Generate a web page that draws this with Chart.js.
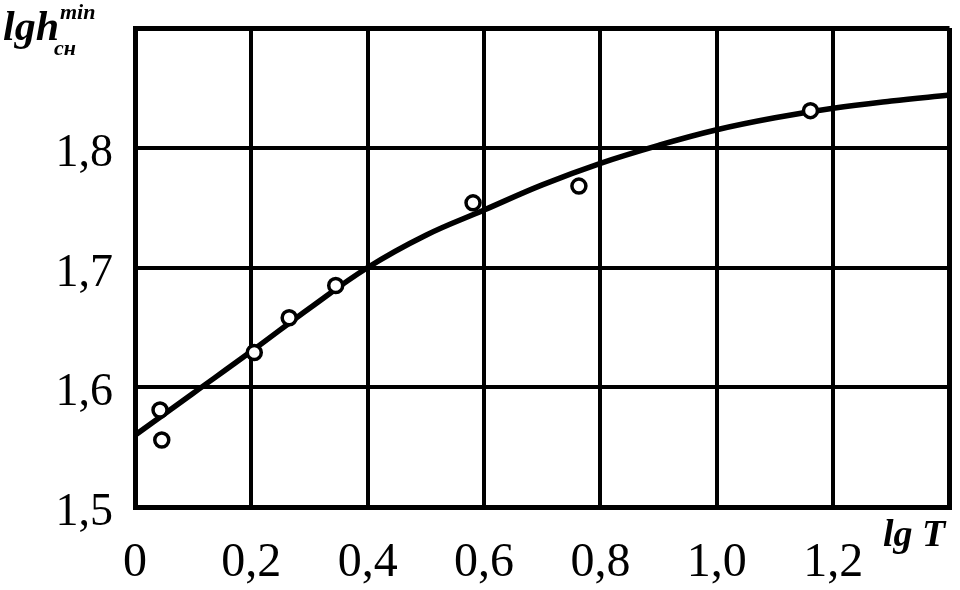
<!DOCTYPE html>
<html>
<head>
<meta charset="utf-8">
<script src="https://cdn.jsdelivr.net/npm/chart.js@4.4.1/dist/chart.umd.min.js"></script>
<style>
  body { margin: 0; background: #fff; }
  #wrap { width: 960px; height: 590px; }
</style>
</head>
<body>
<div id="wrap"><canvas id="myChart" width="960" height="590"></canvas></div>
<script>
// fitted curve
const curveX = [0, 0.1, 0.2, 0.3, 0.4, 0.5, 0.6, 0.7, 0.8, 0.9, 1.0, 1.1, 1.2, 1.3, 1.4];
const curveY = [1.560, 1.595, 1.630, 1.666, 1.700, 1.727, 1.748, 1.769, 1.787, 1.802, 1.815, 1.825, 1.833, 1.839, 1.844];

// observed points
const obsX = [0.043, 0.046, 0.205, 0.265, 0.345, 0.581, 0.763, 1.161];
const obsY = [1.581, 1.556, 1.629, 1.658, 1.685, 1.754, 1.768, 1.831];

const xTicks = [0, 0.2, 0.4, 0.6, 0.8, 1.0, 1.2, 1.4];
const xTickLabels = ['0', '0,2', '0,4', '0,6', '0,8', '1,0', '1,2', ''];
const yTicks = [1.5, 1.6, 1.7, 1.8, 1.9];
const yTickLabels = ['1,5', '1,6', '1,7', '1,8', ''];

const serif = '"Liberation Serif", "DejaVu Serif", serif';

const titles = {
  id: 'titles',
  afterDraw(chart) {
    const c = chart.ctx;
    c.save();
    c.fillStyle = '#000';
    c.textBaseline = 'alphabetic';
    c.font = 'italic bold 42px ' + serif;
    c.fillText('lgh', 3, 40);
    c.font = 'italic bold 22px ' + serif;
    c.fillText('min', 60, 19);
    c.fillText('сн', 54, 55);
    c.font = 'italic bold 38px ' + serif;
    c.fillText('lg T', 883, 546);
    c.restore();
  }
};

const ctx = document.getElementById('myChart');

new Chart(ctx, {
  type: 'scatter',
  data: {
    datasets: [{
      data: obsX.map((x, i) => ({ x: x, y: obsY[i] })),
      showLine: false,
      pointRadius: 7,
      pointBorderWidth: 3.5,
      pointBackgroundColor: '#fff',
      pointBorderColor: '#000'
    }, {
      data: curveX.map((x, i) => ({ x: x, y: curveY[i] })),
      showLine: true,
      borderColor: '#000',
      borderWidth: 5.5,
      tension: 0.4,
      pointRadius: 0
    }]
  },
  options: {
    responsive: false,
    animation: false,
    layout: {
      padding: { top: 28, right: -6, left: 0, bottom: 0 }
    },
    plugins: {
      legend: { display: false },
      tooltip: { enabled: false }
    },
    scales: {
      x: {
        type: 'linear',
        min: 0,
        max: 1.4,
        afterFit: function (scale) {
          scale.height = 83;
          scale.paddingRight = 0;
          scale.paddingLeft = 0;
        },
        afterBuildTicks: function (scale) { scale.ticks = xTicks.map(v => ({ value: v })); },
        grid: {
          color: '#000',
          lineWidth: c => (c.index === 0 || c.index === xTicks.length - 1) ? 5 : 4,
          drawTicks: false
        },
        border: { color: '#000', width: 5 },
        ticks: {
          padding: 28,
          color: '#000',
          maxRotation: 0,
          autoSkip: false,
          font: { family: serif, size: 48 },
          callback: function (v, i) { return xTickLabels[i]; }
        }
      },
      y: {
        type: 'linear',
        min: 1.5,
        max: 1.9,
        afterFit: function (scale) {
          scale.width = 135;
          scale.paddingTop = 0;
          scale.paddingBottom = 0;
        },
        afterBuildTicks: function (scale) { scale.ticks = yTicks.map(v => ({ value: v })); },
        grid: {
          color: '#000',
          lineWidth: c => (c.index === 0 || c.index === yTicks.length - 1) ? 5 : 4,
          drawTicks: false
        },
        border: { color: '#000', width: 5 },
        ticks: {
          padding: 22,
          labelOffset: 6,
          color: '#000',
          autoSkip: false,
          font: { family: serif, size: 46 },
          callback: function (v, i) { return yTickLabels[i]; }
        }
      }
    }
  },
  plugins: [titles]
});
</script>
</body>
</html>
